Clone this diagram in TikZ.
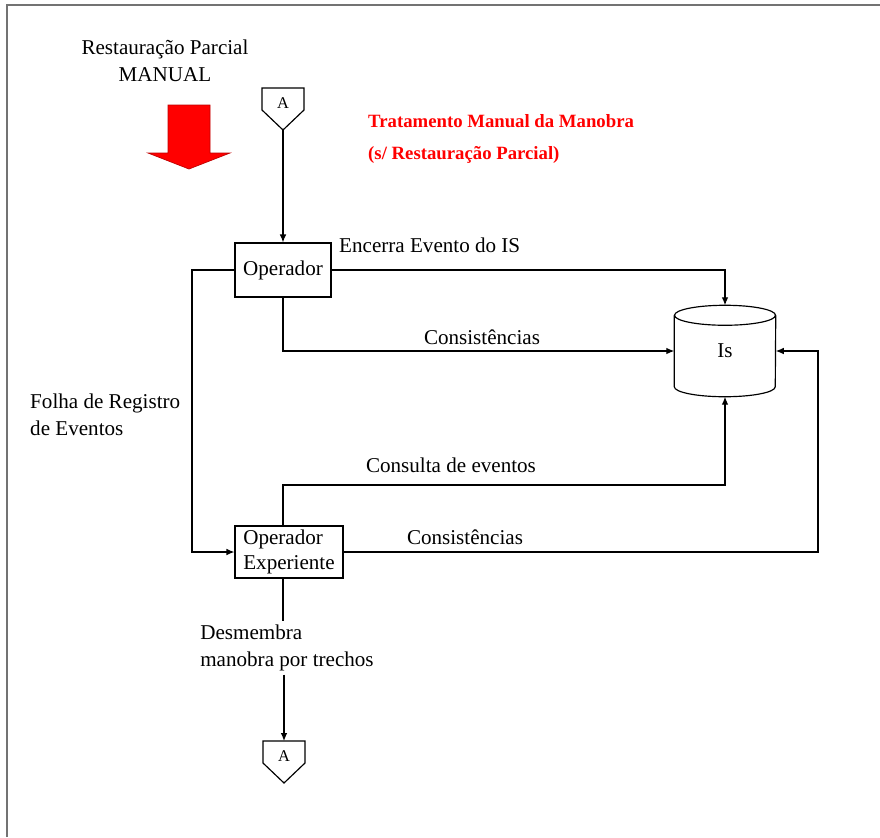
\documentclass[tikz,border=0pt]{standalone}
\usepackage{fontspec}
\setmainfont{LiberationSerif}[
    Extension=.ttf,
    UprightFont=*-Regular,
    BoldFont=*-Bold]
\usetikzlibrary{arrows.meta,positioning}

\tikzset{
    lbl/.style={font=\fontsize{18}{23}\selectfont, inner sep=0pt},
    procbox/.style={draw, line width=1pt, font=\fontsize{18}{22}\selectfont, inner sep=3pt},
    wire/.style={line width=1pt},
    arr/.style={line width=1pt, -{Latex[length=0.24cm,width=0.2cm]}},
    offpage/.pic={
        \draw[line width=1pt] (-21,-1) -- (-21,21) -- (21,21) -- (21,-1) -- (0,-21) -- cycle;
        \node[font=\fontsize{14}{16}\selectfont, inner sep=0pt] (-lbl) at (0,6) {A};
        \coordinate (-top) at (0,21);
        \coordinate (-tip) at (0,-21);
    }
}

\begin{document}
\begin{tikzpicture}[x=0.03cm,y=0.03cm,line join=miter]
    \useasboundingbox (0,0) rectangle (880,-837);
    \draw[black!55, line width=1.5pt] (7,-837) -- (7,-5) -- (880,-5);

    % header
    \node[lbl, align=center] (restTxt) at (165,-61) {Restauração Parcial\\MANUAL};
    \fill[red, draw=red!75!black, line width=0.6pt]
        (168,-105) -- (210,-105) -- (210,-153) -- (230,-153) -- (189,-169)
        -- (148,-153) -- (168,-153) -- cycle;
    \node[font=\fontsize{16}{28}\selectfont\bfseries, text=red, align=left, anchor=west, inner sep=0pt]
        (title) at (368,-139) {Tratamento Manual da Manobra\\(s/ Restauração Parcial)};

    % nodes
    \pic (aTop) at (283,-109) {offpage};
    \node[procbox, minimum width=2.88cm, minimum height=1.62cm] (opr) at (283,-270) {Operador};
    \node[procbox, align=left, minimum width=3.24cm, minimum height=1.56cm] (opExp) at (289,-552)
        {Operador\\Experiente};
    \node[lbl, minimum width=3.03cm, minimum height=2.73cm] (isDb) at (725,-351) {Is};
    \draw[line width=1pt] ([yshift=-0.3cm]isDb.north) ellipse [x radius=1.515cm, y radius=0.3cm];
    \draw[line width=1pt] ([yshift=-0.3cm]isDb.north west) -- ([yshift=0.3cm]isDb.south west)
        arc[start angle=180, end angle=360, x radius=1.515cm, y radius=0.3cm]
        -- ([yshift=-0.3cm]isDb.north east);
    \node[lbl, align=left] (desm) at (287,-648) {Desmembra\\manobra por trechos};
    \pic (aBot) at (284,-762) {offpage};

    \coordinate (leftBus) at (192,-270);
    \coordinate (consLvl) at (500,-485);
    \coordinate (rightBus) at (818,-552);

    % connectors
    \draw[arr] (aTop-tip) -- (opr.north);
    \draw[arr] (opr.east) -| (isDb.north);
    \draw[arr] (opr.south) |- (isDb.west);
    \draw[arr] (opr.west) -- (leftBus) |- (opExp.west);
    \draw[arr] (opExp.north -| opr.south) |- (consLvl) -| (isDb.south);
    \draw[arr] (opExp.east) -- (rightBus) |- (isDb.east);
    \draw[wire] (opExp.south -| opr.south) -- ([yshift=0.1cm]desm.north -| opr.south);
    \draw[arr] ([yshift=-0.1cm]desm.south -| aBot-top) -- (aBot-top);

    % labels
    \node[lbl, anchor=west] (encTxt) at (339,-245) {Encerra Evento do IS};
    \node[lbl] (cons1Txt) at (482,-337) {Consistências};
    \node[lbl, align=left, anchor=west] (folhaTxt) at (30,-415) {Folha de Registro\\de Eventos};
    \node[lbl] (consuTxt) at (451,-465) {Consulta de eventos};
    \node[lbl] (cons2Txt) at (465,-537) {Consistências};
\end{tikzpicture}
\end{document}
